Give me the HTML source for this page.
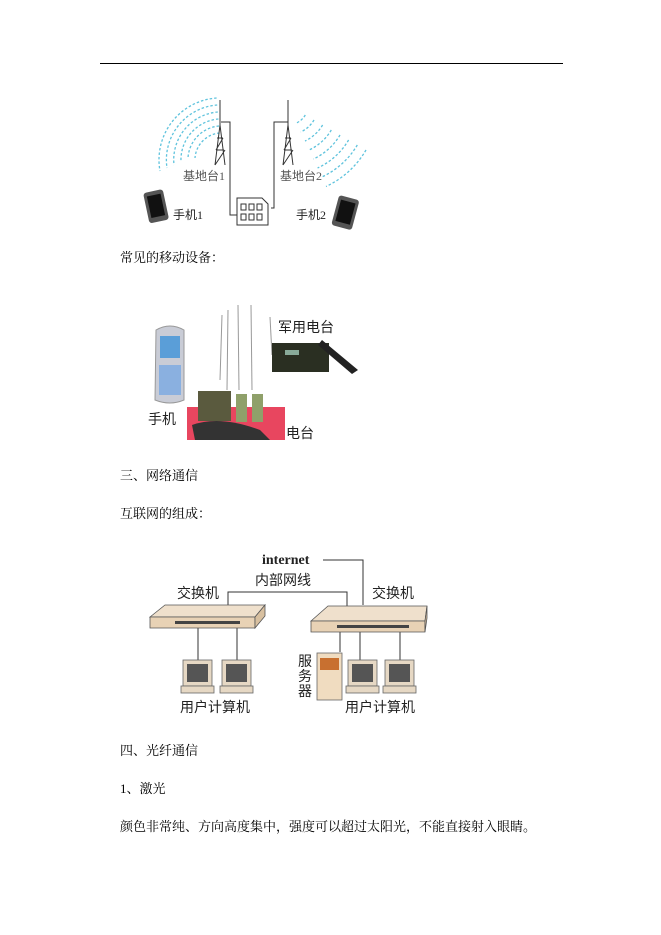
<!DOCTYPE html>
<html><head><meta charset="utf-8"><style>
body{margin:0;width:661px;height:935px;background:#fff;position:relative;overflow:hidden;font-family:"Liberation Serif","Noto Serif CJK SC","Noto Sans CJK SC",serif;}
.t{position:absolute;font-size:13px;color:#000;white-space:nowrap;line-height:16px}
svg{position:absolute;left:0;top:0}
</style></head><body>
<svg width="661" height="935" viewBox="0 0 661 935" font-family="Liberation Serif,Noto Sans CJK SC,sans-serif">
<line x1="100" y1="63.5" x2="563" y2="63.5" stroke="#000" stroke-width="1"/>
<!-- diagram 1 -->
<g fill="none" stroke="#5fc3dd" stroke-width="1.3" stroke-dasharray="2.5 2">
<path d="M219.6 133 A27 27 0 0 0 195 158"/>
<path d="M219 126 A34 34 0 0 0 188 158"/>
<path d="M218.4 119 A41 41 0 0 0 181 162"/>
<path d="M217.8 112 A48 48 0 0 0 174 165"/>
<path d="M217.2 105 A55 55 0 0 0 167 168"/>
<path d="M216.6 98 A62 62 0 0 0 160 171"/>
<path d="M305.3 115 A20 20 0 0 1 296.5 123"/>
<path d="M314 120 A30 30 0 0 1 300.7 132"/>
<path d="M322.6 125 A40 40 0 0 1 305 141"/>
<path d="M331.3 130 A50 50 0 0 1 309 150"/>
<path d="M340 135 A60 60 0 0 1 313.4 159"/>
<path d="M348.6 140 A70 70 0 0 1 317.6 168"/>
<path d="M357.3 145 A80 80 0 0 1 321.8 177"/>
<path d="M366 150 A90 90 0 0 1 326 186.5"/>
</g>
<g stroke="#333" stroke-width="1" fill="none">
<line x1="220" y1="100" x2="220" y2="125"/><path d="M215 165 L220 125 L225 165 M216 150 L224 150 M217 138 L223 138 M215 165 L225 150 M216 150 L223 138"/>
<line x1="288" y1="100" x2="288" y2="125"/><path d="M283 165 L288 125 L293 165 M284 150 L292 150 M285 138 L291 138 M283 165 L293 150 M284 150 L291 138"/>
<path d="M221 122 H230 V215 H237"/><path d="M288 122 H274 V208 H271"/>
<path d="M237 198 H262 L268 204 V225 H237 Z"/>
<rect x="241" y="204" width="5" height="6"/><rect x="249" y="204" width="5" height="6"/><rect x="257" y="204" width="5" height="6"/>
<rect x="241" y="214" width="5" height="6"/><rect x="249" y="214" width="5" height="6"/><rect x="257" y="214" width="5" height="6"/>
</g>
<g transform="rotate(-12 155 206)"><rect x="146" y="191" width="20" height="31" rx="3" fill="#555"/><rect x="149" y="195" width="14" height="22" fill="#111"/></g>
<g transform="rotate(15 345 212)"><rect x="335" y="197" width="21" height="31" rx="3" fill="#555"/><rect x="338" y="201" width="15" height="22" fill="#111"/></g>
<g font-size="12" fill="#555"><text x="183" y="180">基地台1</text><text x="280" y="180">基地台2</text>
<text x="173" y="219" fill="#222">手机1</text><text x="296" y="219" fill="#222">手机2</text></g>
<!-- photo -->
<rect x="187" y="407" width="98" height="33" fill="#e8465f"/>
<g stroke="#999" stroke-width="1"><line x1="220" y1="380" x2="222" y2="315"/><line x1="227" y1="390" x2="228" y2="310"/><line x1="239" y1="390" x2="238" y2="305"/><line x1="252" y1="390" x2="251" y2="305"/><line x1="272" y1="355" x2="270" y2="317"/></g>
<rect x="198" y="391" width="33" height="30" fill="#5a5a3e"/><rect x="236" y="394" width="11" height="28" fill="#8fa06a"/><rect x="252" y="394" width="11" height="28" fill="#8fa06a"/>
<path d="M192 425 Q220 415 260 430 L270 440 H195 Z" fill="#333"/>
<rect x="272" y="343" width="57" height="29" fill="#2a2f22"/><rect x="285" y="350" width="14" height="5" fill="#8a9"/>
<path d="M322 340 L358 370 L352 374 L318 345 Z" fill="#222"/>
<path d="M156 330 Q170 322 184 330 L184 400 Q170 406 155 400 Z" fill="#c9ccd6" stroke="#999"/>
<rect x="160" y="336" width="20" height="22" fill="#5a9ed8"/><rect x="159" y="365" width="22" height="30" fill="#8ab0e0"/>
<g font-size="14" fill="#222"><text x="278" y="332">军用电台</text><text x="148" y="424">手机</text><text x="286" y="438">电台</text></g>
<!-- network -->
<g stroke="#333" stroke-width="1" fill="none">
<path d="M323 560 H363 V605"/><path d="M228 605 V592 H347 V606"/>
<line x1="198" y1="628" x2="198" y2="660"/><line x1="237" y1="628" x2="237" y2="660"/>
<line x1="340" y1="632" x2="340" y2="652"/><line x1="360" y1="632" x2="360" y2="660"/><line x1="400" y1="632" x2="400" y2="660"/>
</g>
<g stroke="#555" stroke-width="0.8">
<path d="M150 617 L165 605 H265 L255 617 Z" fill="#efe0cc"/><path d="M150 617 H255 V628 H150 Z" fill="#e8d2b5"/><path d="M255 617 L265 605 V616 L255 628 Z" fill="#d8c0a0"/>
<path d="M311 621 L328 606 H427 L425 621 Z" fill="#efe0cc"/><path d="M311 621 H425 V632 H311 Z" fill="#e8d2b5"/><path d="M425 621 L427 606 V618 L425 632 Z" fill="#d8c0a0"/>
</g>
<rect x="175" y="621" width="65" height="3" fill="#444"/><rect x="337" y="625" width="72" height="3" fill="#444"/>
<g id="pc"><rect x="183" y="660" width="29" height="26" fill="#e6d8c4" stroke="#666" stroke-width="0.8"/><rect x="187" y="664" width="21" height="18" fill="#555"/><rect x="181" y="686" width="33" height="7" fill="#e6d8c4" stroke="#666" stroke-width="0.8"/></g>
<use href="#pc" x="39"/><use href="#pc" x="165"/><use href="#pc" x="202"/>
<rect x="317" y="653" width="25" height="47" fill="#f0dcc0" stroke="#666" stroke-width="0.8"/><rect x="320" y="658" width="19" height="12" fill="#c87030"/>
<g font-size="14" fill="#222"><text x="262" y="564" font-weight="bold">internet</text><text x="255" y="585">内部网线</text>
<text x="177" y="598">交换机</text><text x="372" y="598">交换机</text>
<text x="180" y="712">用户计算机</text><text x="345" y="712">用户计算机</text>
<text x="298" y="666">服</text><text x="298" y="681">务</text><text x="298" y="696">器</text></g>
</svg>
<div class="t" style="left:120px;top:250px">常见的移动设备：</div>
<div class="t" style="left:120px;top:468px">三、网络通信</div>
<div class="t" style="left:120px;top:506px">互联网的组成：</div>
<div class="t" style="left:120px;top:743px">四、光纤通信</div>
<div class="t" style="left:120px;top:781px">1、激光</div>
<div class="t" style="left:120px;top:819px">颜色非常纯、方向高度集中，强度可以超过太阳光，不能直接射入眼睛。</div>
</body></html>
